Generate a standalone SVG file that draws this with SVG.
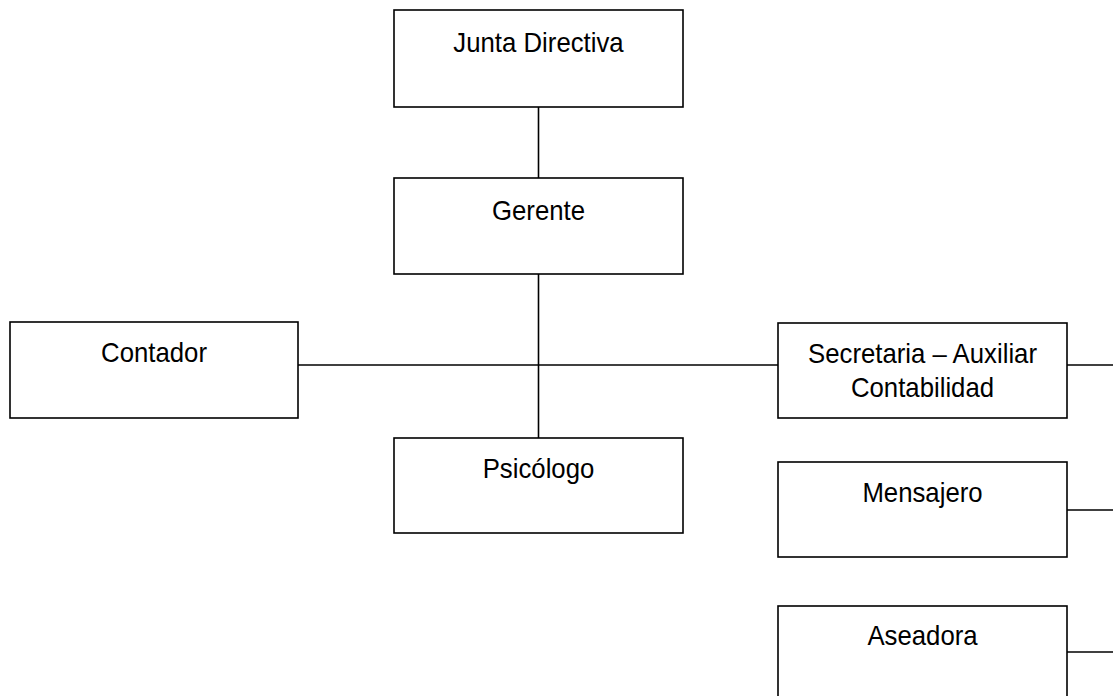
<svg xmlns="http://www.w3.org/2000/svg" width="1113" height="696" viewBox="0 0 1113 696">
<style>
.box{fill:#fff;stroke:#000;stroke-width:1.6}
.ln{stroke:#000;stroke-width:1.6;fill:none}
.t{font-family:"Liberation Sans",Arial,sans-serif;font-size:28px;fill:#000;text-anchor:middle}
</style>
<rect width="1113" height="696" fill="#fff"/>
<g id="connectors">
<line class="ln" x1="538.5" y1="107" x2="538.5" y2="178"/>
<line class="ln" x1="538.5" y1="274" x2="538.5" y2="438"/>
<line class="ln" x1="298" y1="365" x2="778" y2="365"/>
<line class="ln" x1="1067" y1="365" x2="1113" y2="365"/>
<line class="ln" x1="1067" y1="510" x2="1113" y2="510"/>
<line class="ln" x1="1067" y1="652" x2="1113" y2="652"/>
</g>
<g id="junta"><rect class="box" x="394" y="10" width="289" height="97"/><text class="t" transform="translate(538.5 52) scale(0.92 1)">Junta Directiva</text></g>
<g id="gerente"><rect class="box" x="394" y="178" width="289" height="96"/><text class="t" transform="translate(538.5 220) scale(0.92 1)">Gerente</text></g>
<g id="contador"><rect class="box" x="10" y="322" width="288" height="96"/><text class="t" transform="translate(154 362) scale(0.92 1)">Contador</text></g>
<g id="psicologo"><rect class="box" x="394" y="438" width="289" height="95"/><text class="t" transform="translate(538.5 478) scale(0.92 1)">Psicólogo</text></g>
<g id="secretaria"><rect class="box" x="778" y="323" width="289" height="95"/><text class="t" transform="translate(922.5 363) scale(0.92 1)">Secretaria – Auxiliar</text><text class="t" transform="translate(922.5 397) scale(0.92 1)">Contabilidad</text></g>
<g id="mensajero"><rect class="box" x="778" y="462" width="289" height="95"/><text class="t" transform="translate(922.5 502) scale(0.92 1)">Mensajero</text></g>
<g id="aseadora"><rect class="box" x="778" y="606" width="289" height="96"/><text class="t" transform="translate(922.5 645) scale(0.92 1)">Aseadora</text></g>
</svg>
